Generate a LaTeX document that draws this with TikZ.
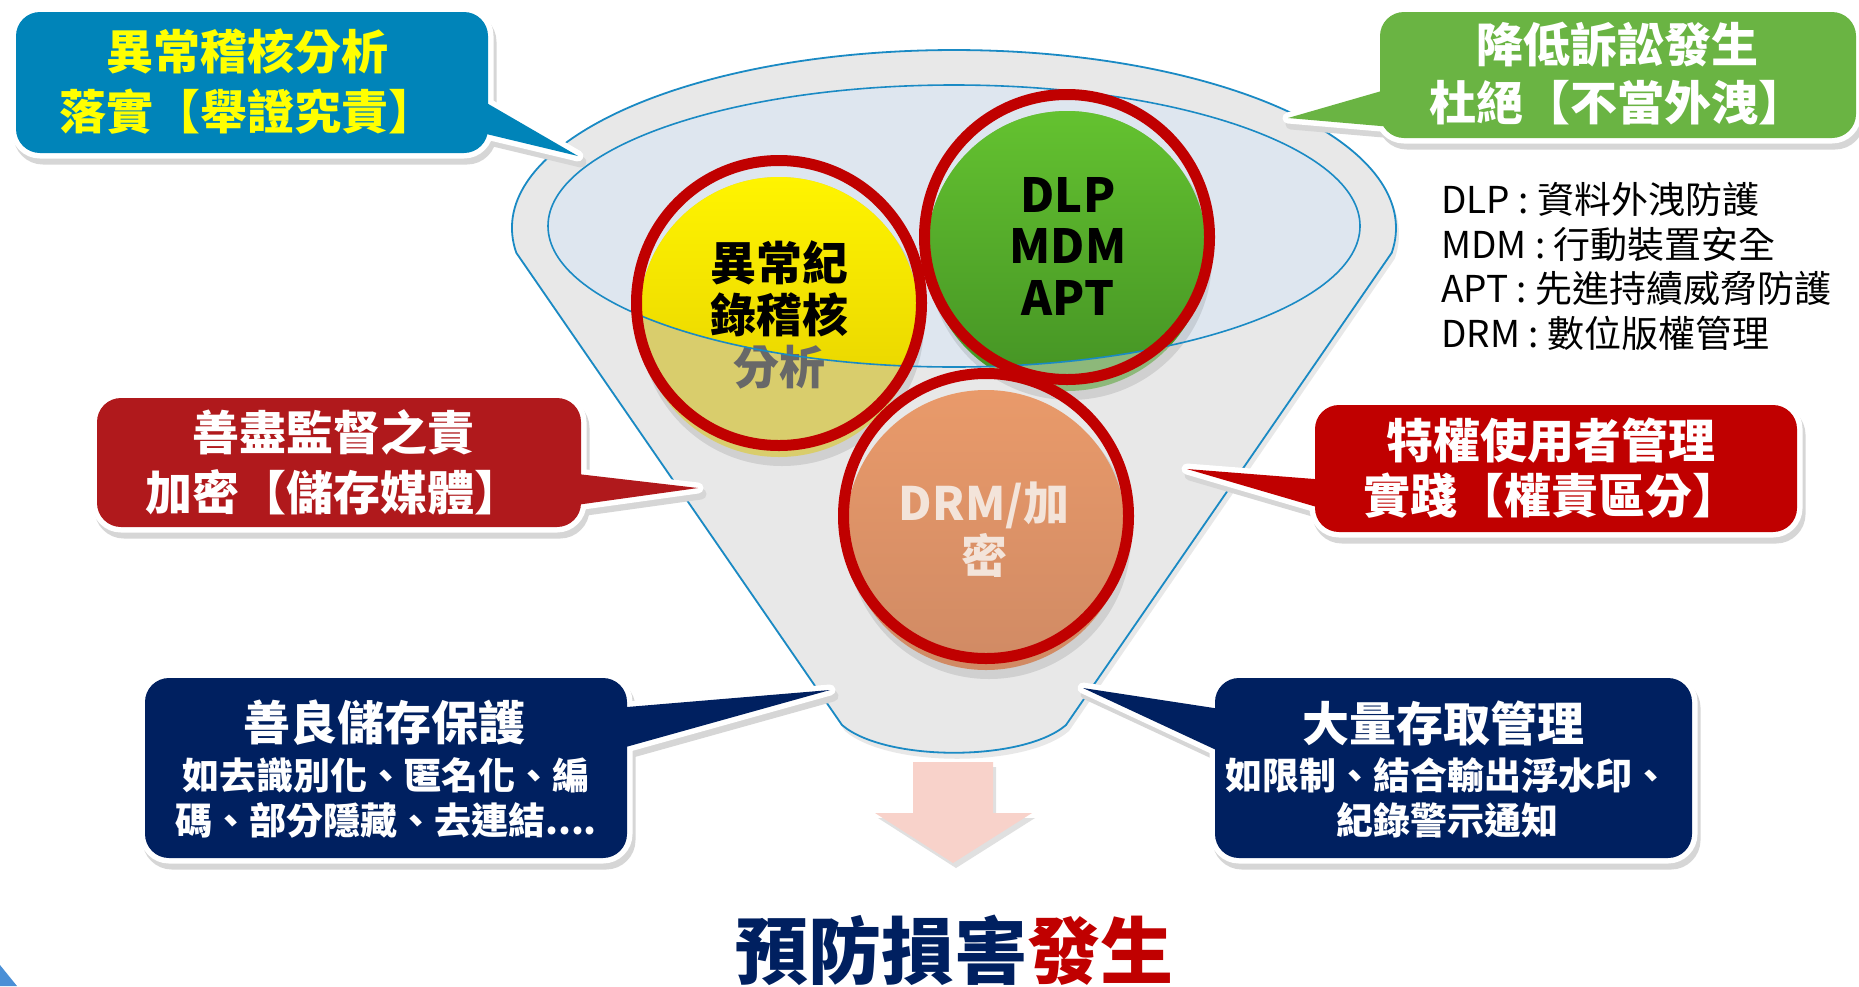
\documentclass[tikz,border=0pt]{standalone}
\usepackage{fontspec}
\setmainfont{Noto Sans CJK TC}
\usetikzlibrary{calc}
\definecolor{cblue}{HTML}{0084B9}
\definecolor{cgreen}{HTML}{6AB443}
\definecolor{credA}{HTML}{B0191C}
\definecolor{credB}{HTML}{C00000}
\definecolor{cnavy}{HTML}{002060}
\definecolor{cyel}{HTML}{FFFF00}
\definecolor{funline}{HTML}{1A8AC4}
\definecolor{fungray}{HTML}{E8E8E8}
\definecolor{innerfill}{HTML}{DEE6EF}
\definecolor{ringred}{HTML}{C00000}
\definecolor{ylwA}{HTML}{FFF400}
\definecolor{ylwB}{HTML}{E2CC00}
\definecolor{ylwLow}{HTML}{D9CD6C}
\definecolor{grnA}{HTML}{64C230}
\definecolor{grnB}{HTML}{449224}
\definecolor{grnLow}{HTML}{8DB87A}
\definecolor{orgA}{HTML}{E99A6A}
\definecolor{orgB}{HTML}{D08A64}
\definecolor{ygray}{HTML}{686868}
\definecolor{drmtext}{HTML}{F3E4DA}
\definecolor{arrowpink}{HTML}{F8D2CA}
\definecolor{cornerblue}{HTML}{4A8FD6}

\newcommand\mycallout[3]{%
  \filldraw[black!16, line width=11, line join=round, shift={(3,6)}, rounded corners=24] #2;
  \filldraw[black!16, line width=11, line join=round, shift={(3,6)}] #3 -- cycle;
  \draw[white, line width=11, line join=round, rounded corners=24] #2;
  \draw[white, line width=11, line join=round] #3 -- cycle;
  \fill[#1, rounded corners=24] #2;
  \fill[#1] #3 -- cycle;
}

\begin{document}
\begin{tikzpicture}[x=1pt,y=-1pt,
  bigtxt/.style={font=\fontsize{47}{60}\selectfont\bfseries, align=center, inner sep=0},
  smalltxt/.style={font=\fontsize{37}{45}\selectfont\bfseries, align=center, inner sep=0, text=white}]
\useasboundingbox (0,0) rectangle (1859,986);
\fill[white] (0,0) rectangle (1859,986);

% corner decoration
\fill[cornerblue] (0,965) -- (17,986) -- (0,986) -- cycle;

% funnel
\fill[black!9, shift={(3,6)}] (516.3,252.8) arc[start angle=172, end angle=368, x radius=442, y radius=178] -- (1066,725) .. controls (1023,762) and (885,762) .. (842,725) -- cycle;
\fill[fungray] (516.3,252.8) arc[start angle=172, end angle=368, x radius=442, y radius=178] -- (1066,725) .. controls (1023,762) and (885,762) .. (842,725) -- cycle;
\draw[funline, line width=1.8] (516.3,252.8) arc[start angle=172, end angle=368, x radius=442, y radius=178] -- (1066,725) .. controls (1023,762) and (885,762) .. (842,725) -- cycle;
\fill[innerfill] (954,226) ellipse[x radius=406, y radius=141];

% circle shadows
\foreach \cx/\cy in {779/317, 1067/251, 986/530}
  \fill[black, opacity=0.10] (\cx+3,\cy+7) circle[radius=142];

% circle fills
\fill[ylwLow] (779,317) circle[radius=140];
\fill[grnLow] (1067,251) circle[radius=140];
\begin{scope}
  \clip (954,226) ellipse[x radius=406, y radius=141];
  \shade[top color=ylwA, bottom color=ylwB] (779,317) circle[radius=140];
  \shade[top color=grnA, bottom color=grnB] (1067,251) circle[radius=140];
\end{scope}
\shade[top color=orgA, bottom color=orgB] (986,530) circle[radius=140];

% circle texts
\node[font=\fontsize{46}{52}\selectfont\bfseries, align=center, inner sep=0] (ytext) at (779,315) {異常紀\\錄稽核\\{\color{ygray}分析}};
\node[font=\fontsize{47}{51.5}\selectfont\bfseries, align=center, inner sep=0] (gtext) at (1068,246) {DLP\\MDM\\APT};
\node[font=\fontsize{46}{53}\selectfont\bfseries, align=center, inner sep=0, text=drmtext] (dtext) at (984,530) {DRM/加\\密};

% inner ellipse outline
\draw[funline, line width=1.6] (954,226) ellipse[x radius=406, y radius=141];

% red rings
\draw[ringred, line width=11] (779,303) circle[radius=142.5];
\draw[ringred, line width=11] (1067,237) circle[radius=142.5];
\draw[ringred, line width=11] (986,516) circle[radius=142.5];

% callouts
\mycallout{cblue}{(16,12) rectangle (488,153)}{(478,98) -- (578,156) -- (478,132)}
\mycallout{cgreen}{(1380,12) rectangle (1856,138)}{(1392,88) -- (1288,118) -- (1392,127)}
\mycallout{credA}{(97,398) rectangle (581,527)}{(569,473) -- (698,488) -- (569,506)}
\mycallout{credB}{(1315,405) rectangle (1797,532)}{(1327,480) -- (1187,469) -- (1327,510)}
\mycallout{cnavy}{(145,678) rectangle (627,858)}{(615,708) -- (830,690) -- (615,750)}
\mycallout{cnavy}{(1215,678) rectangle (1692,858)}{(1227,710) -- (1083,688) -- (1227,755)}

\node[bigtxt, text=cyel] (tblue) at (247,82) {異常稽核分析\\落實【舉證究責】};
\node[bigtxt, text=white, font=\fontsize{47}{58}\selectfont\bfseries] (tgreen) at (1617,74) {降低訴訟發生\\杜絕【不當外洩】};
\node[bigtxt, text=white] (tredl) at (333,462) {善盡監督之責\\加密【儲存媒體】};
\node[bigtxt, text=white, font=\fontsize{47}{55}\selectfont\bfseries] (tredr) at (1551,468) {特權使用者管理\\實踐【權責區分】};
\node[bigtxt, text=white] (tnavyla) at (384,723) {善良儲存保護};
\node[smalltxt] (tnavylb) at (386,797.5) {如去識別化、匿名化、編\\碼、部分隱藏、去連結....};
\node[bigtxt, text=white] (tnavyra) at (1443,723) {大量存取管理};
\node[smalltxt] (tnavyrb) at (1447,797.5) {如限制、結合輸出浮水印、\\紀錄警示通知};

% legend
\node[font=\fontsize{37}{44.5}\selectfont, align=left, anchor=west, inner sep=0] (legend) at (1441,266.5)
  {DLP : 資料外洩防護\\MDM : 行動裝置安全\\APT : 先進持續威脅防護\\DRM : 數位版權管理};

% arrow
\fill[black!12, shift={(3,5)}] (913,762) -- (993,762) -- (993,813) -- (1032,813) -- (953,863) -- (875,813) -- (913,813) -- cycle;
\fill[arrowpink] (913,762) -- (993,762) -- (993,813) -- (1032,813) -- (953,863) -- (875,813) -- (913,813) -- cycle;

% title
\node[font=\fontsize{73}{73}\selectfont\bfseries, inner sep=0] (title) at (954,950) {\color{cnavy}預防損害\color{credB}發生};
\end{tikzpicture}
\end{document}
